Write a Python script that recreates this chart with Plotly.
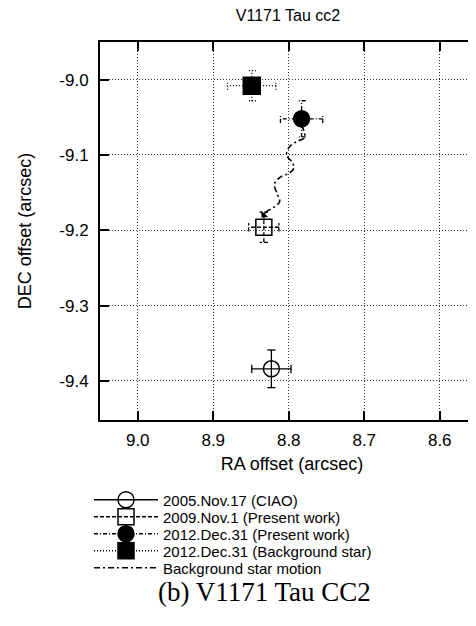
import plotly.graph_objects as go

# ---- data (arcsec) ----
labels = ["2005.Nov.17 (CIAO)", "2009.Nov.1 (Present work)",
          "2012.Dec.31 (Present work)", "2012.Dec.31 (Background star)"]
ra = [8.823, 8.833, 8.783, 8.849]
dec = [-9.384, -9.196, -9.052, -9.008]
ra_err = [0.026, 0.020, 0.028, 0.032]
dec_err = [0.025, 0.020, 0.024, 0.020]

motion_label = "Background star motion"
motion_ra = [8.783, 8.779, 8.789, 8.799, 8.803, 8.796, 8.793, 8.799, 8.812,
             8.819, 8.816, 8.812, 8.819, 8.829, 8.836]
motion_dec = [-9.060, -9.077, -9.082, -9.089, -9.100, -9.109, -9.117, -9.124,
              -9.130, -9.139, -9.150, -9.162, -9.169, -9.175, -9.183]

x_ticks = [9.0, 8.9, 8.8, 8.7, 8.6]
y_ticks = [-9.0, -9.1, -9.2, -9.3, -9.4]

# ---- styles ----
symbols = ["circle-open", "square-open", "circle", "square"]
dashes = ["solid", "4px,2px", "4px,2px,1px,2px", "1px,2px"]
cap_x = 0.0055   # cap half-length in RA units
cap_y = 0.0055

OFF = 8                       # page body margin
W, H = 476, 610
L, T = 92, 34
PW, PH = W - L, 378           # plot area

def px_x(px):
    return (px - OFF - L) / PW

def px_y(py):
    return 1 - (py - OFF - T) / PH

x_left = 9.05
x_right = x_left - PW / 755.0

fig = go.Figure()

for i in range(4):
    x0, y0, ex, ey = ra[i], dec[i], ra_err[i], dec_err[i]
    xs = [x0 - ex, x0 + ex, None, x0, x0, None,
          x0 - ex, x0 - ex, None, x0 + ex, x0 + ex, None,
          x0 - cap_x, x0 + cap_x, None, x0 - cap_x, x0 + cap_x]
    ys = [y0, y0, None, y0 - ey, y0 + ey, None,
          y0 - cap_y, y0 + cap_y, None, y0 - cap_y, y0 + cap_y, None,
          y0 - ey, y0 - ey, None, y0 + ey, y0 + ey]
    fig.add_trace(go.Scatter(x=xs, y=ys, mode="lines", showlegend=False,
                             hoverinfo="skip",
                             line=dict(color="black", width=1.3, dash=dashes[i])))

legend_rows = [500, 517, 534, 551, 568]
legend_names = ["legend", "legend2", "legend3", "legend4", "legend5"]

for i in range(4):
    fig.add_trace(go.Scatter(
        x=[ra[i]], y=[dec[i]], mode="lines+markers", name=labels[i],
        legend=legend_names[i],
        line=dict(color="black", width=1.3, dash=dashes[i]),
        marker=dict(symbol=symbols[i], size=16 if i < 3 else 17, color="black",
                    line=dict(color="black", width=1.5))))

fig.add_trace(go.Scatter(x=motion_ra, y=motion_dec, mode="lines",
                         name=motion_label, line_shape="spline", legend=legend_names[4],
                         line=dict(color="black", width=1.6, dash="6px,3px,2px,3px")))

fig.add_annotation(x=motion_ra[-1], y=motion_dec[-1], ax=motion_ra[-2], ay=motion_dec[-2],
                   xref="x", yref="y", axref="x", ayref="y", text="", showarrow=True,
                   arrowhead=1, arrowsize=1.2, arrowwidth=1.3, arrowcolor="black",
                   standoff=0, startstandoff=0)

tick_font = dict(family="Liberation Sans, Arial, sans-serif", size=17, color="black")
title_font = dict(family="Liberation Sans, Arial, sans-serif", size=18, color="black")
top_font = dict(family="Liberation Sans, Arial, sans-serif", size=16, color="black")
leg_font = dict(family="Liberation Sans, Arial, sans-serif", size=15, color="black")

axis_common = dict(showline=True, linecolor="black", linewidth=2, mirror="ticks",
                   ticks="inside", ticklen=9, tickwidth=1.5, tickcolor="black",
                   showgrid=True, gridcolor="#333", gridwidth=1, griddash="1px,2px",
                   zeroline=False, tickfont=tick_font, automargin=False)

layout_legends = {}
for name, row in zip(legend_names, legend_rows):
    layout_legends[name] = dict(x=px_x(89), xanchor="left", y=px_y(row), yanchor="middle",
                                bgcolor="rgba(0,0,0,0)", font=leg_font,
                                itemwidth=64, itemsizing="trace", borderwidth=0)

fig.update_layout(
    width=W, height=H,
    margin=dict(l=L, r=W - L - PW, t=T, b=H - T - PH, autoexpand=False),
    paper_bgcolor="white", plot_bgcolor="white",
    font=tick_font,
    title=dict(text="V1171 Tau cc2", x=(288 - OFF) / W, xanchor="center",
               y=1 - 2 / H, yanchor="top", pad=dict(t=0, b=0), font=top_font),
    xaxis=dict(range=[x_left, x_right], tickvals=x_ticks,
               ticktext=[f"{v:.1f}" for v in x_ticks],
               title=dict(text="RA offset (arcsec)", font=title_font, standoff=8),
               ticklabelstandoff=4, **axis_common),
    yaxis=dict(range=[-9.452, -8.95], tickvals=y_ticks,
               ticktext=[f"{v:.1f}" for v in y_ticks],
               title=dict(text="DEC offset (arcsec)", font=title_font, standoff=23),
               ticklabelstandoff=6, **axis_common),
    showlegend=True,
    **layout_legends,
)

fig.add_annotation(text="(b) V1171 Tau CC2", xref="paper", yref="paper",
                   x=px_x(264), y=px_y(592), showarrow=False,
                   xanchor="center", yanchor="middle",
                   font=dict(family="Liberation Serif, serif", size=27, color="black"))

fig.write_html("out.html")
